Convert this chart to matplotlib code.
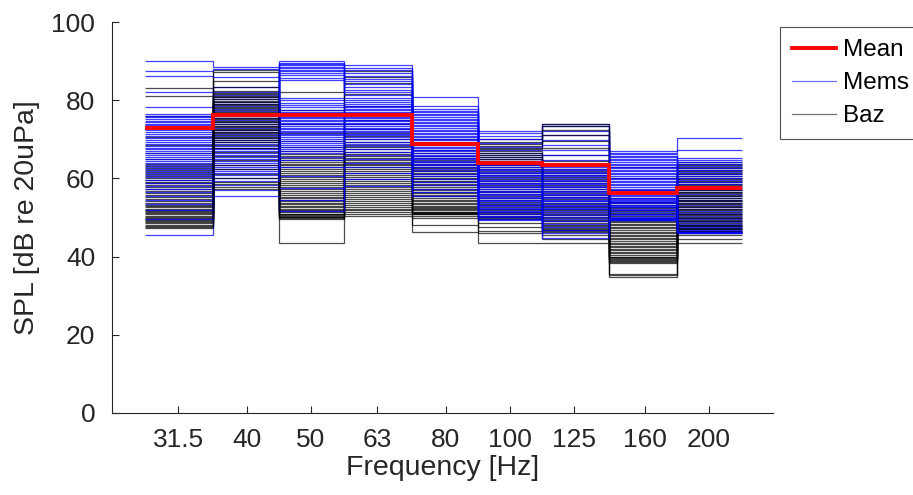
import numpy as np
import matplotlib
matplotlib.use("Agg")
import matplotlib.pyplot as plt

plt.rcParams['font.family'] = ['Liberation Sans', 'DejaVu Sans']

# Third-octave band centres (nominal) and labels
bands = [31.5, 40, 50, 63, 80, 100, 125, 160, 200]
band_labels = ["31.5", "40", "50", "63", "80", "100", "125", "160", "200"]

# Mean SPL per band
mean_spl = [72.8, 76.3, 76.3, 76.3, 68.8, 63.9, 63.4, 56.3, 57.5]

# MEMS microphone SPL per band (one value per recording)
mems_31 = [90.0, 87.4, 86.3, 82.0, 78.3, 76.4, 76.0, 75.6, 75.2, 74.8,
           74.4, 74.0, 73.6, 73.0, 72.4, 71.9, 71.4, 70.9, 70.4, 69.9,
           69.4, 68.9, 68.4, 67.9, 67.4, 66.9, 66.4, 65.9, 65.4, 64.9,
           64.4, 63.9, 63.4, 62.9, 62.4, 61.9, 61.4, 60.9, 60.4, 59.6,
           58.8, 58.0, 57.2, 56.4, 55.6, 54.6, 53.4, 51.8, 49.5, 45.5]
mems_40 = [88.6, 88.0, 86.0, 83.5, 82.0, 81.4, 80.8, 80.2, 79.6, 79.0,
           78.4, 77.8, 77.2, 76.6, 76.0, 75.4, 74.9, 74.4, 73.9, 73.4,
           72.9, 72.4, 71.9, 71.4, 70.9, 70.4, 69.9, 69.4, 68.9, 68.4,
           67.9, 67.4, 66.9, 66.4, 65.9, 65.4, 64.9, 64.4, 63.9, 63.4,
           62.9, 62.4, 61.9, 61.4, 60.9, 60.2, 59.4, 58.4, 57.0, 55.6]
mems_50 = [89.9, 89.6, 89.3, 89.0, 88.6, 88.2, 87.8, 87.4, 86.9, 86.4,
           85.8, 85.2, 80.6, 80.0, 79.4, 78.8, 78.2, 77.6, 77.0, 76.6,
           76.2, 75.8, 75.4, 75.0, 74.6, 74.2, 73.8, 73.4, 73.0, 72.6,
           72.2, 71.8, 71.4, 71.0, 70.5, 70.0, 69.5, 69.0, 68.5, 68.0,
           67.5, 67.0, 66.4, 65.6, 64.6, 63.0, 60.5, 57.5, 54.5, 51.6]
mems_63 = [88.9, 88.3, 87.6, 86.9, 86.2, 85.5, 84.8, 84.1, 83.4, 82.7,
           82.0, 81.3, 80.6, 80.0, 79.5, 79.0, 78.6, 78.2, 77.8, 77.4,
           77.0, 76.6, 76.2, 75.8, 75.4, 75.0, 74.6, 74.2, 73.8, 73.4,
           73.0, 72.6, 72.2, 71.8, 71.4, 71.0, 70.5, 70.0, 69.4, 68.8,
           68.2, 67.5, 66.8, 66.0, 65.0, 64.0, 62.8, 61.4, 59.8, 58.0]
mems_80 = [80.7, 78.6, 77.8, 77.3, 76.9, 76.5, 76.1, 75.7, 75.3, 74.9,
           74.5, 74.1, 73.7, 73.3, 72.9, 72.5, 72.1, 71.7, 71.3, 70.9,
           70.5, 70.1, 69.7, 69.3, 68.9, 68.5, 68.1, 67.7, 67.3, 66.9,
           66.5, 66.1, 65.7, 65.3, 64.9, 64.5, 64.1, 63.7, 63.3, 62.9,
           62.4, 61.8, 61.2, 60.5, 59.8, 59.0, 58.2, 57.4, 56.4, 55.4]
mems_100 = [72.0, 71.6, 70.8, 70.0, 69.0, 68.0, 67.2, 66.5, 65.9, 65.4,
            64.9, 64.5, 64.1, 63.7, 63.3, 62.9, 62.5, 62.1, 61.7, 61.3,
            60.9, 60.5, 60.1, 59.7, 59.3, 58.9, 58.5, 58.1, 57.7, 57.3,
            56.9, 56.5, 56.1, 55.7, 55.3, 54.9, 54.5, 54.1, 53.7, 53.3,
            52.9, 52.5, 52.1, 51.7, 51.3, 50.9, 50.5, 50.1, 49.7, 49.3]
mems_125 = [74.0, 73.3, 72.2, 71.0, 69.8, 68.5, 67.2, 66.0, 64.8, 63.8,
            63.3, 62.9, 62.5, 62.1, 61.7, 61.3, 60.9, 60.5, 60.1, 59.7,
            59.3, 58.9, 58.5, 58.1, 57.7, 57.3, 56.9, 56.5, 56.1, 55.7,
            55.3, 54.9, 54.5, 54.1, 53.7, 53.3, 52.9, 52.5, 52.1, 51.7,
            51.2, 50.7, 50.2, 49.6, 49.0, 48.3, 47.6, 46.8, 46.0, 44.8]
mems_160 = [67.0, 66.6, 66.2, 65.8, 65.4, 65.0, 64.6, 64.2, 63.8, 63.4,
            63.0, 62.6, 62.2, 61.8, 61.4, 61.0, 60.6, 60.2, 59.8, 59.4,
            59.0, 58.6, 58.2, 57.8, 57.4, 57.0, 56.6, 56.2, 55.8, 55.4,
            55.1, 54.8, 54.5, 54.2, 53.9, 53.6, 53.3, 53.0, 52.6, 52.2,
            51.8, 51.4, 51.0, 50.6, 50.2, 49.9, 49.7, 49.5, 49.4, 49.3]
mems_200 = [70.4, 67.3, 65.2, 64.6, 64.1, 63.6, 63.1, 62.6, 62.1, 61.6,
            61.1, 60.6, 60.1, 59.6, 59.1, 58.6, 58.1, 57.6, 57.1, 56.6,
            56.1, 55.6, 55.1, 54.6, 54.1, 53.6, 53.1, 52.6, 52.1, 51.6,
            51.2, 50.8, 50.4, 50.0, 49.6, 49.2, 48.8, 48.4, 48.0, 47.8,
            47.6, 47.3, 47.0, 46.8, 46.6, 46.4, 46.3, 46.2, 46.1, 46.0]

# Reference (Baz) microphone SPL per band
baz_31 = [83.1, 81.0, 76.0, 73.0, 70.5, 68.5, 66.5, 65.0, 63.8, 63.2,
          62.7, 62.2, 61.7, 61.2, 60.7, 60.2, 59.7, 59.2, 58.7, 58.2,
          57.7, 57.2, 56.7, 56.2, 55.7, 55.2, 54.7, 54.2, 53.7, 53.2,
          52.9, 52.6, 52.3, 52.0, 51.7, 51.4, 51.1, 50.8, 50.5, 50.2,
          50.0, 49.7, 49.4, 49.1, 48.8, 48.5, 48.2, 47.9, 47.6, 47.2]
baz_40 = [87.8, 87.2, 85.0, 83.4, 82.3, 81.9, 81.5, 81.1, 80.7, 80.3,
          79.9, 79.5, 79.1, 78.7, 78.3, 77.9, 77.5, 77.1, 76.7, 76.3,
          75.9, 75.5, 75.1, 74.7, 74.3, 73.9, 73.5, 73.1, 72.7, 72.3,
          71.9, 71.5, 71.1, 70.7, 70.3, 69.8, 69.2, 68.5, 67.7, 66.8,
          65.8, 64.7, 63.5, 62.3, 61.0, 60.0, 59.2, 58.5, 57.8, 57.2]
baz_50 = [82.0, 77.5, 74.0, 71.5, 69.5, 68.0, 67.0, 66.3, 65.8, 65.3,
          64.8, 64.3, 63.8, 63.3, 62.8, 62.3, 61.8, 61.3, 60.8, 60.3,
          59.8, 59.3, 58.8, 58.3, 57.8, 57.3, 56.8, 56.3, 55.8, 55.3,
          55.0, 54.6, 54.2, 53.8, 53.4, 53.0, 52.6, 52.2, 51.9, 51.6,
          51.3, 51.0, 50.8, 50.6, 50.4, 50.2, 50.1, 50.0, 49.6, 43.5]
baz_63 = [87.5, 86.0, 84.5, 81.5, 78.5, 76.5, 75.0, 73.8, 72.6, 71.6,
          70.8, 70.0, 69.3, 68.6, 68.0, 67.4, 66.8, 66.3, 65.8, 65.3,
          64.8, 64.3, 63.8, 63.3, 62.8, 62.3, 61.8, 61.3, 60.8, 60.3,
          59.8, 59.3, 58.8, 58.3, 57.8, 57.3, 56.8, 56.3, 55.8, 55.3,
          54.8, 54.3, 53.8, 53.3, 52.8, 52.3, 51.8, 51.3, 50.9, 50.5]
baz_80 = [70.0, 68.5, 67.3, 66.4, 65.7, 65.1, 64.6, 64.2, 63.8, 63.4,
          63.0, 62.6, 62.2, 61.8, 61.4, 61.0, 60.6, 60.2, 59.8, 59.4,
          59.0, 58.6, 58.2, 57.8, 57.4, 57.0, 56.6, 56.2, 55.8, 55.4,
          55.0, 54.6, 54.2, 53.8, 53.4, 53.0, 52.7, 52.4, 52.1, 51.8,
          51.5, 51.3, 51.2, 51.1, 51.0, 50.8, 50.5, 50.0, 48.0, 46.3]
baz_100 = [70.0, 69.4, 68.9, 68.4, 67.9, 67.4, 66.9, 66.4, 65.9, 65.4,
           64.9, 64.4, 63.9, 63.4, 62.9, 62.4, 61.9, 61.4, 60.9, 60.4,
           59.9, 59.4, 58.9, 58.4, 57.9, 57.4, 56.9, 56.4, 55.9, 55.4,
           54.9, 54.4, 53.9, 53.5, 53.1, 52.7, 52.3, 51.9, 51.5, 51.1,
           50.8, 50.5, 50.2, 50.0, 49.5, 48.5, 47.5, 46.5, 46.0, 43.5]
baz_125 = [74.0, 73.4, 72.4, 71.0, 69.5, 67.8, 66.0, 64.5, 63.3, 62.5,
           61.9, 61.3, 60.8, 60.3, 59.8, 59.3, 58.8, 58.3, 57.8, 57.3,
           56.8, 56.3, 55.8, 55.3, 54.8, 54.3, 53.8, 53.4, 53.0, 52.6,
           52.2, 51.8, 51.4, 51.0, 50.6, 50.2, 49.8, 49.4, 49.0, 48.6,
           48.2, 47.8, 47.4, 47.0, 46.7, 46.5, 46.3, 45.5, 44.5, 43.4]
baz_160 = [63.0, 60.0, 57.0, 55.0, 54.0, 53.6, 53.2, 52.8, 52.4, 52.0,
           51.6, 51.2, 50.8, 50.4, 50.0, 49.6, 49.2, 48.8, 48.4, 48.0,
           47.6, 47.2, 46.8, 46.4, 46.0, 45.6, 45.2, 44.8, 44.4, 44.0,
           43.6, 43.2, 42.8, 42.4, 42.0, 41.6, 41.2, 40.8, 40.4, 40.0,
           39.8, 39.6, 39.4, 39.2, 39.0, 38.6, 38.4, 35.6, 35.2, 34.8]
baz_200 = [64.2, 63.8, 63.4, 63.0, 62.6, 62.2, 61.8, 61.4, 61.0, 60.6,
           60.2, 59.8, 59.4, 59.0, 58.6, 58.2, 57.8, 57.4, 57.0, 56.6,
           56.2, 55.8, 55.4, 55.0, 54.6, 54.2, 53.8, 53.4, 53.0, 52.6,
           52.2, 51.8, 51.4, 51.0, 50.6, 50.2, 49.8, 49.4, 49.0, 48.6,
           48.2, 47.8, 47.4, 47.0, 46.6, 46.3, 46.0, 45.5, 44.5, 43.5]

mems = np.array([mems_31, mems_40, mems_50, mems_63, mems_80, mems_100, mems_125, mems_160, mems_200]).T
baz = np.array([baz_31, baz_40, baz_50, baz_63, baz_80, baz_100, baz_125, baz_160, baz_200]).T

# band edges (geometric midpoints, outer edges at 1/6 octave)
c = np.array(bands, dtype=float)
edges = np.concatenate([[c[0] / 2 ** (1 / 6)], np.sqrt(c[:-1] * c[1:]), [c[-1] * 2 ** (1 / 6)]])

fig = plt.figure(figsize=(9.13, 4.95), dpi=100)
ax = fig.add_axes([112 / 913, 82 / 495, 661 / 913, 391 / 495])

h_mems = h_baz = None
for i in range(len(mems)):
    hm = ax.stairs(mems[i], edges, baseline=None, color=(0, 0, 1), alpha=0.75, lw=0.9)
    hb = ax.stairs(baz[i], edges, baseline=None, color=(0, 0, 0), alpha=0.7, lw=0.9)
    if i == 0:
        h_mems, h_baz = hm, hb
h_mean = ax.stairs(mean_spl, edges, baseline=None, color=(1, 0, 0), lw=2.8)

ax.set_xscale('log')
ax.set_xlim(25, 250)
ax.set_ylim(0, 100)
ax.set_xticks(bands)
ax.set_xticklabels(band_labels)
ax.xaxis.set_minor_locator(matplotlib.ticker.NullLocator())
ax.set_yticks([0, 20, 40, 60, 80, 100])
ax.tick_params(direction='in', length=5, width=0.8, colors=(0.15, 0.15, 0.15),
               labelsize=19, labelcolor=(0.15, 0.15, 0.15))
ax.tick_params(axis='y', pad=12)
ax.tick_params(axis='x', pad=11)
for s in ['top', 'right']:
    ax.spines[s].set_visible(False)
for s in ['left', 'bottom']:
    ax.spines[s].set_color((0.15, 0.15, 0.15))
    ax.spines[s].set_linewidth(0.8)

ax.set_xlabel("Frequency [Hz]", fontsize=20.5, color=(0.15, 0.15, 0.15), labelpad=2)
ax.set_ylabel("SPL [dB re 20uPa]", fontsize=20.5, color=(0.15, 0.15, 0.15), labelpad=8)

leg = fig.legend([h_mean, h_mems, h_baz], ["Mean", "Mems", "Baz"], loc='upper left',
                 bbox_to_anchor=(780 / 913, 468 / 495), fontsize=17.5, frameon=True,
                 fancybox=False, edgecolor=(0.15, 0.15, 0.15), handlelength=1.8,
                 handletextpad=0.3, borderpad=0.5, labelspacing=0.45, borderaxespad=0)
leg.get_frame().set_linewidth(0.8)
lh = leg.legend_handles
lh[0].set_alpha(1.0)
lh[1].set_alpha(0.55)
lh[2].set_alpha(0.55)

fig.savefig("out.png", dpi=100)
